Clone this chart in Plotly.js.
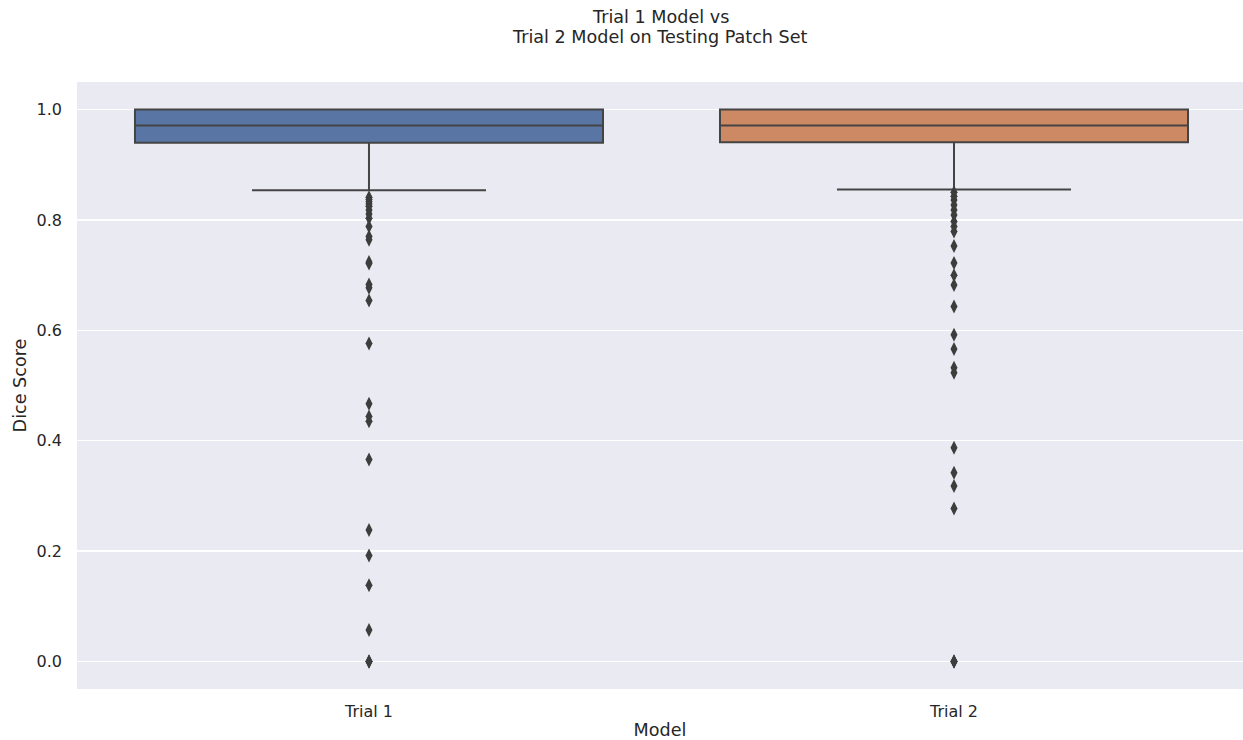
<!DOCTYPE html>
<html>
<head>
<meta charset="utf-8">
<script src="https://cdn.plot.ly/plotly-3.0.1.min.js"></script>
<style>html,body{margin:0;padding:0;background:#fff;}#chart{width:1243px;height:740px;}</style>
</head>
<body>
<div id="chart"></div>
<script>
// Categories
const models = ["Trial 1", "Trial 2"];
// Title lines
const titleLines = ["Trial 1 Model vs", "Trial 2 Model on Testing Patch Set"];
// Box statistics
const q1Vals = [0.940, 0.941];
const medianVals = [0.971, 0.971];
const q3Vals = [1.0, 1.0];
const lowerWhisker = [0.854, 0.855];
const upperWhisker = [1.0, 1.0];
// Outliers (estimated)
const trial1Outliers = [0.841, 0.837, 0.833, 0.829, 0.825, 0.818, 0.811, 0.803, 0.788, 0.770, 0.764,
  0.724, 0.721, 0.683, 0.677, 0.654, 0.576, 0.467, 0.444, 0.435, 0.366, 0.238, 0.192, 0.138, 0.057,
  0.0, 0.0, 0.0];
const trial2Outliers = [0.850, 0.843, 0.836, 0.827, 0.818, 0.809, 0.797, 0.788, 0.779, 0.753, 0.722,
  0.700, 0.682, 0.643, 0.592, 0.566, 0.532, 0.523, 0.387, 0.342, 0.318, 0.277, 0.0, 0.0, 0.0];
const fillColors = ["#5875a4", "#cc8963"];
const lineColor = "#444444";

const traces = [];
models.forEach((m, i) => {
  traces.push({
    type: "box",
    x: [m],
    q1: [q1Vals[i]],
    median: [medianVals[i]],
    q3: [q3Vals[i]],
    lowerfence: [lowerWhisker[i]],
    upperfence: [upperWhisker[i]],
    fillcolor: fillColors[i],
    line: { color: lineColor, width: 2 },
    width: 0.8,
    whiskerwidth: 0.5,
    boxpoints: false,
    hoverinfo: "skip",
    showlegend: false
  });
});
const outlierSets = [trial1Outliers, trial2Outliers];
outlierSets.forEach((vals, i) => {
  traces.push({
    type: "scatter",
    mode: "markers",
    x: vals.map(() => models[i]),
    y: vals,
    marker: { symbol: "diamond-tall", size: 10, color: "#3d3d3d", line: { width: 0 } },
    hoverinfo: "skip",
    showlegend: false
  });
});

const font = "DejaVu Sans, sans-serif";
const txt = "#262626";
const layout = {
  width: 1243,
  height: 740,
  paper_bgcolor: "#ffffff",
  plot_bgcolor: "#eaeaf2",
  margin: { l: 77, r: 0, t: 82, b: 51, pad: 0 },
  font: { family: font, color: txt },
  annotations: [
    { text: titleLines[0], xref: "paper", yref: "paper", x: 0.5, y: (689 - 17) / 607,
      xanchor: "center", yanchor: "middle", showarrow: false, font: { family: font, size: 17.6, color: txt } },
    { text: titleLines[1], xref: "paper", yref: "paper", x: 0.5, y: (689 - 37) / 607,
      xanchor: "center", yanchor: "middle", showarrow: false, font: { family: font, size: 17.6, color: txt } }
  ],
  xaxis: {
    type: "category",
    categoryorder: "array",
    categoryarray: models,
    range: [-0.4991, 1.494],
    showgrid: false,
    zeroline: false,
    showline: false,
    ticks: "",
    tickfont: { family: font, size: 16, color: txt },
    ticklabelstandoff: 11,
    title: { text: "Model", font: { family: font, size: 17.6, color: txt }, standoff: 11 }
  },
  yaxis: {
    range: [-0.05, 1.05],
    tickvals: [0, 0.2, 0.4, 0.6, 0.8, 1.0],
    ticktext: ["0.0", "0.2", "0.4", "0.6", "0.8", "1.0"],
    showgrid: true,
    gridcolor: "#ffffff",
    gridwidth: 1.3,
    zeroline: false,
    showline: false,
    ticks: "",
    tickfont: { family: font, size: 16, color: txt },
    ticklabelstandoff: 14,
    title: { text: "Dice Score", font: { family: font, size: 17.6, color: txt }, standoff: 5 }
  },
  boxmode: "overlay"
};
Plotly.newPlot("chart", traces, layout, { staticPlot: true, displayModeBar: false });
</script>
</body>
</html>
